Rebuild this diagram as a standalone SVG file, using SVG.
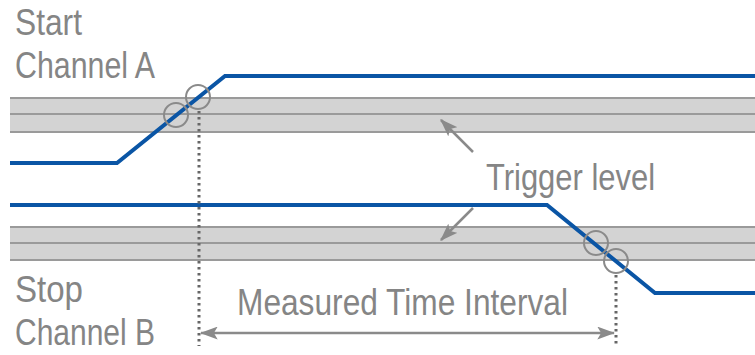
<svg xmlns="http://www.w3.org/2000/svg" width="755" height="355" viewBox="0 0 755 355">
<style>
.band{fill:#d3d3d3;stroke:none}
.bl{stroke:#9a9a9a;stroke-width:2;fill:none}
.sig{stroke:#0a55a5;stroke-width:4;fill:none;stroke-linejoin:miter}
.ring{fill:none;stroke:#8a8a8a;stroke-width:2}
.dot{stroke:#666;stroke-width:3;stroke-dasharray:2.5 3.5;fill:none}
.arr{stroke:#8a8a8a;stroke-width:2.5;fill:none}
text{font-family:"Liberation Sans",Arial,sans-serif;font-size:36px;fill:#858585}
</style>
<defs>
<marker id="ah2" viewBox="0 0 14 10" refX="13" refY="5" markerWidth="18" markerHeight="13" markerUnits="userSpaceOnUse" orient="auto-start-reverse">
<path d="M0,0 L14,5 L0,10 L3,5 Z" fill="#8a8a8a"/>
</marker>
</defs>
<g id="bandA">
<rect class="band" x="10" y="98" width="745" height="34"/>
<line class="bl" x1="10" y1="98" x2="755" y2="98"/>
<line class="bl" x1="10" y1="114" x2="755" y2="114"/>
<line class="bl" x1="10" y1="132" x2="755" y2="132"/>
</g>
<g id="bandB">
<rect class="band" x="10" y="227" width="745" height="33"/>
<line class="bl" x1="10" y1="227" x2="755" y2="227"/>
<line class="bl" x1="10" y1="243" x2="755" y2="243"/>
<line class="bl" x1="10" y1="260" x2="755" y2="260"/>
</g>
<g id="signalA">
<polyline class="sig" points="10,163 117,163 225,76 755,76"/>
<circle class="ring" cx="176" cy="115" r="12"/>
<circle class="ring" cx="198" cy="97" r="12"/>
</g>
<g id="signalB">
<polyline class="sig" points="10,205 547,205 655,293 755,293"/>
<circle class="ring" cx="596" cy="243" r="12"/>
<circle class="ring" cx="616" cy="261" r="12"/>
</g>
<g id="connectors">
<line class="dot" x1="199" y1="111" x2="199" y2="346"/>
<line class="dot" x1="616" y1="275" x2="616" y2="346"/>
<line class="arr" x1="201" y1="333" x2="614" y2="333" marker-start="url(#ah2)" marker-end="url(#ah2)"/>
<line class="arr" x1="473" y1="152" x2="441" y2="120" marker-end="url(#ah2)"/>
<line class="arr" x1="473" y1="208" x2="441" y2="240" marker-end="url(#ah2)"/>
</g>
<g id="labels">
<text x="15" y="35" textLength="67" lengthAdjust="spacingAndGlyphs">Start</text>
<text x="15" y="78" textLength="140" lengthAdjust="spacingAndGlyphs">Channel A</text>
<text x="15" y="302" textLength="68" lengthAdjust="spacingAndGlyphs">Stop</text>
<text x="15" y="345" textLength="140" lengthAdjust="spacingAndGlyphs">Channel B</text>
<text x="486" y="190" textLength="169" lengthAdjust="spacingAndGlyphs">Trigger level</text>
<text x="237" y="315" textLength="331" lengthAdjust="spacingAndGlyphs">Measured Time Interval</text>
</g>
</svg>
